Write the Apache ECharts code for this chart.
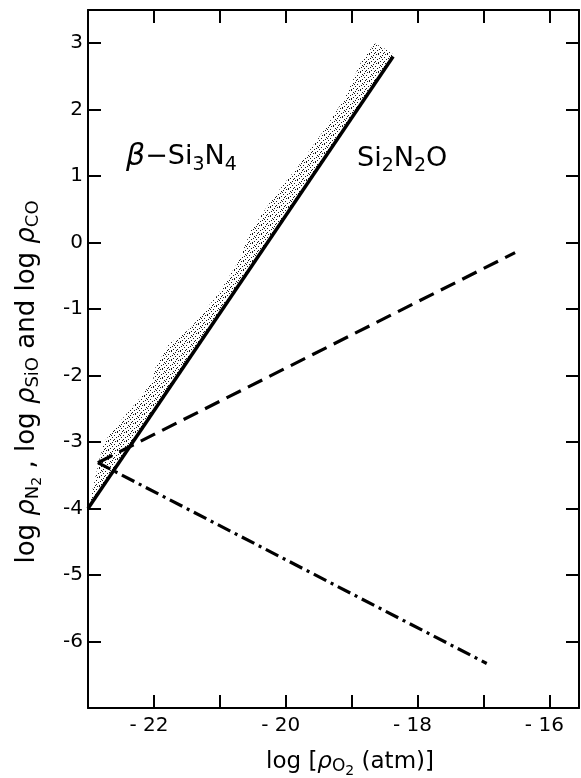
<!DOCTYPE html>
<html>
<head>
<meta charset="utf-8">
<script src="https://cdn.jsdelivr.net/npm/echarts@6/dist/echarts.min.js"></script>
<style>
  html, body { margin: 0; padding: 0; background: #fff; }
  #chart { width: 581px; height: 778px; }
</style>
</head>
<body>
<div id="chart"></div>
<script>
  // upper edge of the stippled band (lower edge is the solid line)
  var bandX = [-23, -22.9, -22.82, -22.75, -22.54, -22.24, -22.01, -22.0, -21.77, -21.63, -21.44, -21.02, -20.71, -20.53, -20.19, -19.78, -19.42, -19.1, -18.87, -18.65, -18.39]
  var bandY = [-4, -3.58, -3.23, -2.99, -2.72, -2.37, -2.07, -1.92, -1.52, -1.43, -1.28, -0.77, -0.27, 0.18, 0.68, 1.19, 1.69, 2.18, 2.69, 3.0, 2.86]

  // Si3N4 / Si2N2O boundary
  var solidX = [-23, -18.37]
  var solidY = [-4, 2.8]
  // dashed line
  var dashX = [-22.85, -16.52]
  var dashY = [-3.31, -0.15]
  // dash-dot line
  var dotX = [-22.85, -16.95]
  var dotY = [-3.31, -6.33]

  var xLabels = [-22, -20, -18, -16]
  var yLabels = [-6, -5, -4, -3, -2, -1, 0, 1, 2, 3]

  function pairs(xs, ys) {
    var arr = []
    for (var i = 0; i < xs.length; i++) {
      arr.push([xs[i], ys[i]])
    }
    return arr
  }

  // stipple pattern
  var cv = document.createElement('canvas')
  cv.width = 9
  cv.height = 9
  var ctx = cv.getContext('2d')
  ctx.fillStyle = '#1a1a1a'
  ;[[0, 0], [4, 1], [7, 0], [2, 2], [6, 3], [1, 4], [8, 5], [4, 5], [2, 7], [6, 7], [0, 8], [5, 8], [3, 3]].forEach(function (p) {
    ctx.fillRect(p[0], p[1], 1, 1)
  })

  var FONT = 'DejaVu Sans'
  var axisLine = { show: true, onZero: false, lineStyle: { color: '#000', width: 2 } }
  var axisTick = { show: true, inside: true, length: 13, lineStyle: { color: '#000', width: 2 } }

  var myChart = echarts.init(document.getElementById('chart'))
  myChart.setOption({
    animation: false,
    backgroundColor: '#fff',
    grid: { left: 88, right: 2, top: 10, bottom: 70, containLabel: false, outerBoundsMode: 'none' },
    xAxis: [
      {
        type: 'value', min: -23, max: -15.55, interval: 1, position: 'bottom',
        axisLine: axisLine, axisTick: axisTick, splitLine: { show: false },
        axisLabel: {
          margin: 8, color: '#000', fontSize: 20, fontFamily: FONT,
          padding: [0, 10, 0, 0],
          showMinLabel: true, showMaxLabel: false,
          formatter: function (v) {
            return xLabels.indexOf(v) >= 0 ? '- ' + Math.abs(v) : ''
          }
        }
      },
      {
        type: 'value', min: -23, max: -15.55, interval: 1, position: 'top',
        axisLine: axisLine, axisTick: axisTick, splitLine: { show: false },
        axisLabel: { show: false }
      }
    ],
    yAxis: [
      {
        type: 'value', min: -7, max: 3.5, interval: 1, position: 'left',
        axisLine: axisLine, axisTick: axisTick, splitLine: { show: false },
        axisLabel: {
          margin: 5, color: '#000', fontSize: 20, fontFamily: FONT,
          showMaxLabel: false,
          formatter: function (v) {
            return yLabels.indexOf(v) >= 0 ? String(v) : ''
          }
        }
      },
      {
        type: 'value', min: -7, max: 3.5, interval: 1, position: 'right',
        axisLine: axisLine, axisTick: axisTick, splitLine: { show: false },
        axisLabel: { show: false }
      }
    ],
    series: [
      {
        type: 'custom',
        data: [[bandX[0], bandY[0]]],
        renderItem: function (params, api) {
          var pts = []
          for (var i = 0; i < bandX.length; i++) {
            pts.push(api.coord([bandX[i], bandY[i]]))
          }
          for (var j = solidX.length - 1; j >= 0; j--) {
            pts.push(api.coord([solidX[j], solidY[j]]))
          }
          return {
            type: 'polygon',
            shape: { points: pts },
            style: { fill: { image: cv, repeat: 'repeat' }, stroke: null }
          }
        },
        z: 1
      },
      {
        type: 'line', data: pairs(solidX, solidY), showSymbol: false, z: 3,
        lineStyle: { color: '#000', width: 3.5 }
      },
      {
        type: 'line', data: pairs(dashX, dashY), showSymbol: false, z: 3,
        lineStyle: { color: '#000', width: 3.2, type: [16, 8] }
      },
      {
        type: 'line', data: pairs(dotX, dotY), showSymbol: false, z: 3,
        lineStyle: { color: '#000', width: 3.2, type: [14, 5, 3, 5] }
      }
    ],
    graphic: [
      {
        type: 'text', left: 126, top: 142,
        style: {
          text: '{b|β}{n|−Si}{s|3}{n|N}{s|4}',
          fill: '#000',
          rich: {
            b: { fontFamily: FONT, fontSize: 30, fontStyle: 'italic', fill: '#000' },
            n: { fontFamily: FONT, fontSize: 27, fill: '#000' },
            s: { fontFamily: FONT, fontSize: 19, fill: '#000', padding: [16, 0, 0, 0] }
          }
        }
      },
      {
        type: 'text', left: 357, top: 145,
        style: {
          text: '{n|Si}{s|2}{n|N}{s|2}{n|O}',
          fill: '#000',
          rich: {
            n: { fontFamily: FONT, fontSize: 27, fill: '#000' },
            s: { fontFamily: FONT, fontSize: 19, fill: '#000', padding: [16, 0, 0, 0] }
          }
        }
      },
      {
        type: 'text', x: 350, y: 762,
        style: {
          text: '{n|log [}{r|ρ}{s|O}{t|2}{n| (atm)]}',
          align: 'center', verticalAlign: 'middle',
          fill: '#000',
          rich: {
            n: { fontFamily: FONT, fontSize: 23, fill: '#000' },
            r: { fontFamily: FONT, fontSize: 23, fontStyle: 'italic', fill: '#000' },
            s: { fontFamily: FONT, fontSize: 17, fill: '#000', padding: [10, 0, 0, 0] },
            t: { fontFamily: FONT, fontSize: 14, fill: '#000', padding: [18, 0, 0, 0] }
          }
        }
      },
      {
        type: 'text', x: 27, y: 382, rotation: Math.PI / 2,
        style: {
          text: '{n|log }{r|ρ}{s|N}{t|2}{n| , log }{r|ρ}{s|SiO}{n| and log }{r|ρ}{s|CO}',
          align: 'center', verticalAlign: 'middle',
          fill: '#000',
          rich: {
            n: { fontFamily: FONT, fontSize: 26, fill: '#000' },
            r: { fontFamily: FONT, fontSize: 26, fontStyle: 'italic', fill: '#000' },
            s: { fontFamily: FONT, fontSize: 18, fill: '#000', padding: [12, 0, 0, 0] },
            t: { fontFamily: FONT, fontSize: 14, fill: '#000', padding: [20, 0, 0, 0] }
          }
        }
      }
    ]
  })
</script>
</body>
</html>
